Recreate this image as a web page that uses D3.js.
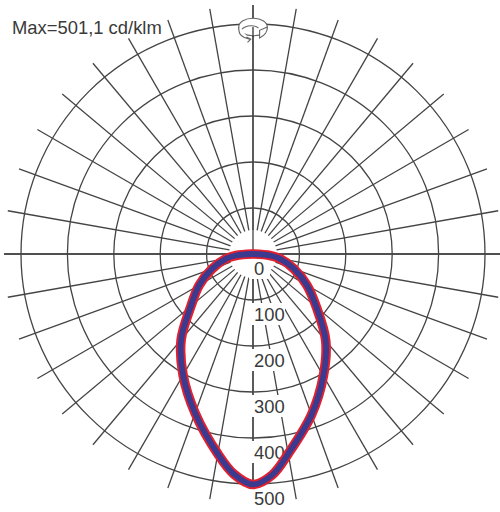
<!DOCTYPE html>
<html>
<head>
<meta charset="utf-8">
<script src="https://cdnjs.cloudflare.com/ajax/libs/d3/7.8.5/d3.min.js"></script>
<style>
html, body { margin: 0; padding: 0; background: #fff; }
svg { display: block; }
text { font-family: "Liberation Sans", Arial, sans-serif; fill: #3a3a3a; }
</style>
</head>
<body>
<svg id="chart" width="500" height="512"></svg>
<script>
// angles from nadir
var gammaAngles = [0, 5, 10, 20, 30, 40, 50, 60, 70, 80, 85, 90];
// cd/klm, right half of the diagram
var intensityRight = [501, 482, 441, 372, 306, 246, 180, 135, 95, 60, 37, 1];
// cd/klm, left half of the diagram
var intensityLeft = [501, 480, 441, 368, 304, 243, 176, 135, 95, 60, 37, 1];
var ringValues = [100, 200, 300, 400, 500];
var tickLabels = [0, 100, 200, 300, 400, 500];
var spokeAngles = d3.range(0, 360, 10);
var axisAngles = [0, 90, 180, 270];

var svg = d3.select("#chart");
var cx = 253, cy = 254;
var r = d3.scaleLinear().domain([0, 500]).range([0, 230]);
var rX = d3.scaleLinear().domain([0, 500]).range([0, 232]);
var root = svg.append("g").attr("transform", "translate(" + cx + "," + cy + ")");

var rad = function(deg) { return deg * Math.PI / 180; };
var spokeInner = r(52), spokeOuter = 249;
var gridColor = "#444";

// grid
root.selectAll(".spoke").data(spokeAngles).enter().append("line")
	.attr("class", "spoke")
	.attr("x1", function(d) { return spokeInner * Math.sin(rad(d)); })
	.attr("y1", function(d) { return -spokeInner * Math.cos(rad(d)); })
	.attr("x2", function(d) { return spokeOuter * Math.sin(rad(d)); })
	.attr("y2", function(d) { return -spokeOuter * Math.cos(rad(d)); })
	.attr("stroke", gridColor)
	.attr("stroke-width", 1.3);

// the main axes run through the centre
root.selectAll(".axis").data(axisAngles).enter().append("line")
	.attr("class", "axis")
	.attr("x1", 0)
	.attr("y1", 0)
	.attr("x2", function(d) { return spokeOuter * Math.sin(rad(d)); })
	.attr("y2", function(d) { return -spokeOuter * Math.cos(rad(d)); })
	.attr("stroke", gridColor)
	.attr("stroke-width", 1.3);

root.selectAll(".ring").data(ringValues).enter().append("ellipse")
	.attr("class", "ring")
	.attr("rx", function(d) { return rX(d); })
	.attr("ry", function(d) { return r(d); })
	.attr("fill", "none")
	.attr("stroke", gridColor)
	.attr("stroke-width", 1.3);

// radial labels knock the grid out behind them
var labels = root.selectAll(".tick").data(tickLabels).enter().append("g")
	.attr("class", "tick")
	.attr("transform", function(d) { return "translate(0," + (r(d) + 14) + ")"; });
labels.append("rect")
	.attr("x", -4)
	.attr("y", -11)
	.attr("width", function(d) { return d === 0 ? 21 : 36; })
	.attr("height", 22)
	.attr("fill", "#fff");

// curve, polar angle runs clockwise from the top in d3.lineRadial
var curvePoints = gammaAngles.map(function(a, i) {
	return { angle: rad(180 - a), value: intensityRight[i] };
});
for (var i = gammaAngles.length - 1; i > 0; i--) {
	curvePoints.push({ angle: rad(180 + gammaAngles[i]), value: intensityLeft[i] });
}
var line = d3.lineRadial()
	.angle(function(d) { return d.angle; })
	.radius(function(d) { return r(d.value); })
	.curve(d3.curveCatmullRomClosed);

root.append("path").attr("d", line(curvePoints))
	.attr("fill", "none").attr("stroke", "#e2202f").attr("stroke-width", 9.6).attr("stroke-linejoin", "round");
root.append("path").attr("d", line(curvePoints))
	.attr("fill", "none").attr("stroke", "#3c3a8f").attr("stroke-width", 5.8).attr("stroke-linejoin", "round");

labels.append("text")
	.attr("x", 1)
	.attr("y", 6.5)
	.attr("font-size", 18.4)
	.text(function(d) { return d; });

// header
svg.append("text").attr("x", 12).attr("y", 34).attr("font-size", 18.4).text("Max=501,1 cd/klm");

// rotation symbol on the axis
var icon = svg.append("g").attr("transform", "translate(" + cx + ",27) scale(1.1)")
	.attr("fill", "none").attr("stroke", "#666").attr("stroke-width", 1);
icon.append("ellipse").attr("rx", 13).attr("ry", 8).attr("fill", "#fff");
icon.append("path").attr("fill", "#fff").attr("d", "M-13,0 C-13,6 -12,9 -3,11 M-6,9 L-2,11 L-5,14 M-10,2 C-6,-2 2,-2 5,1 M13,0 C13,4 12,7 6,10 L6,3 L13,0");
icon.append("line").attr("x1", 0).attr("x2", 0).attr("y1", 0).attr("y2", 9).attr("stroke", gridColor).attr("stroke-width", 1.3);
</script>
</body>
</html>
